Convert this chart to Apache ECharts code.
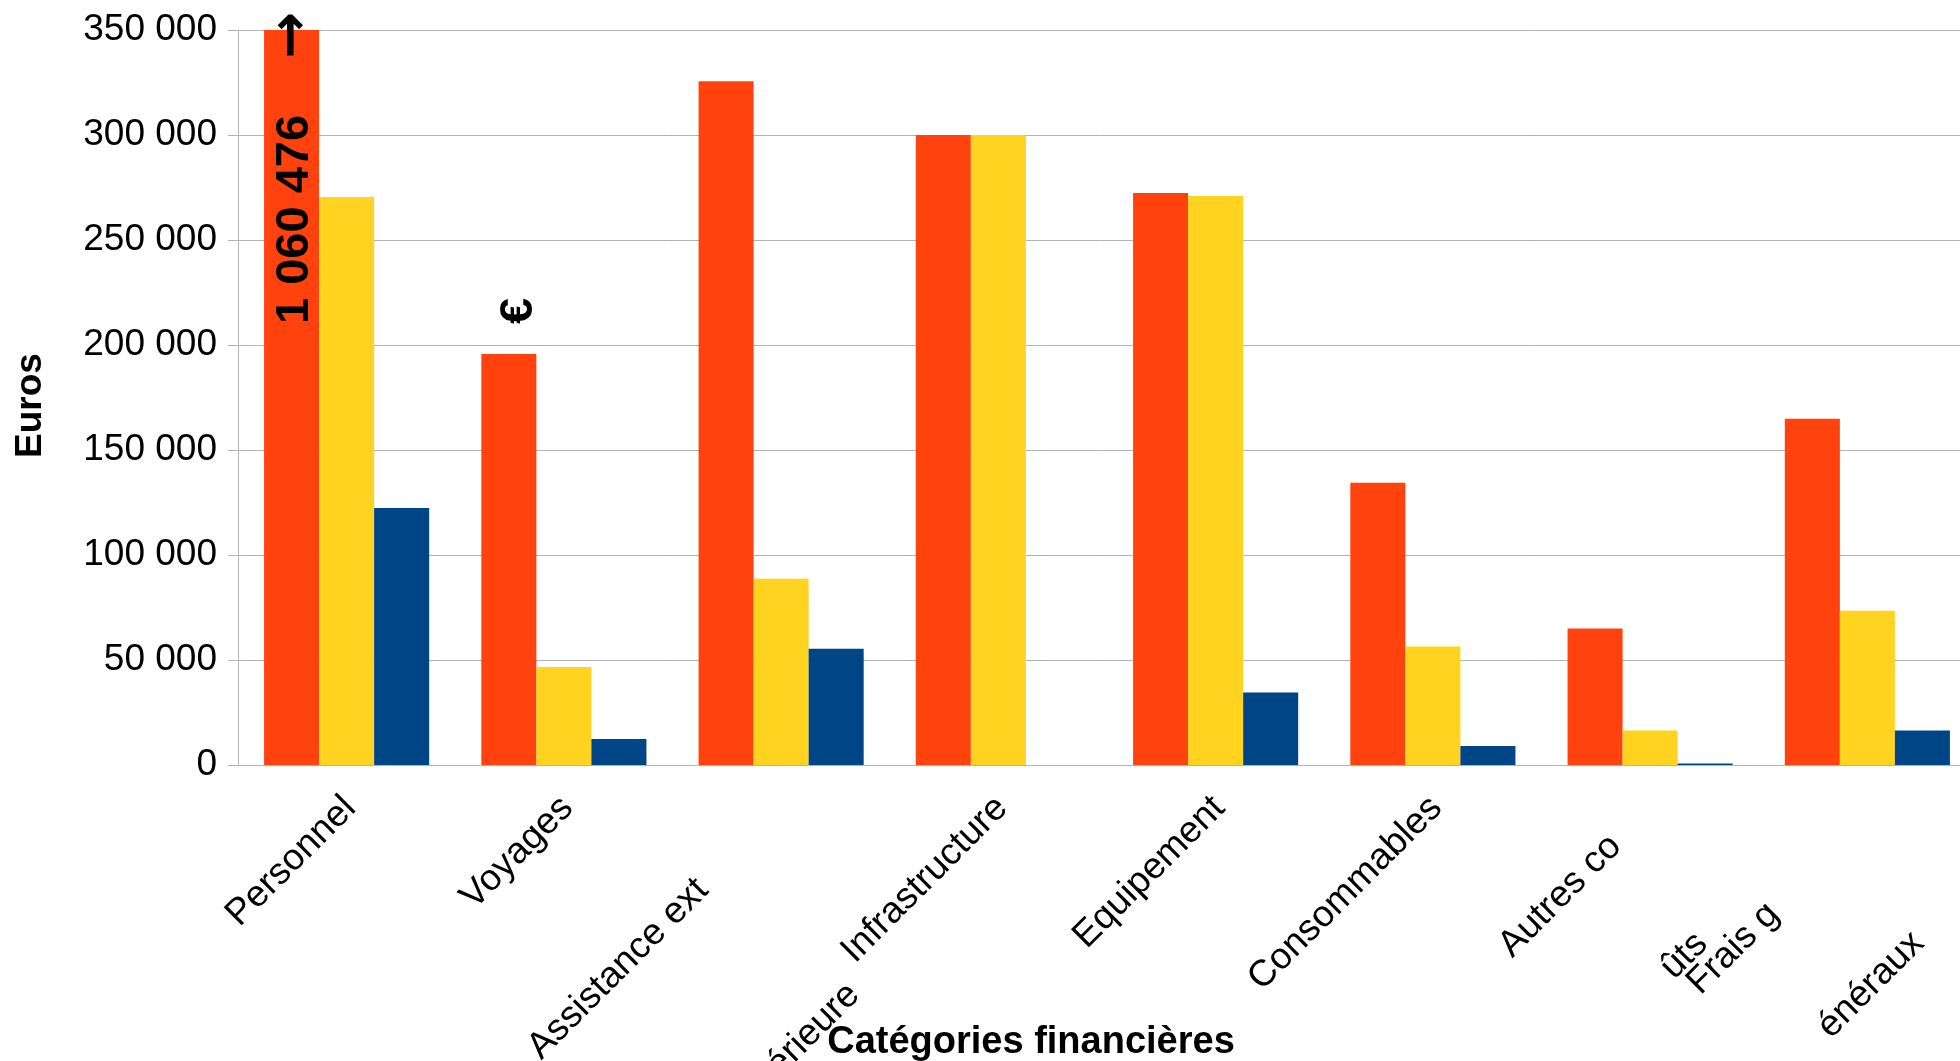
<!DOCTYPE html>
<html>
<head>
<meta charset="utf-8">
<script src="https://cdn.jsdelivr.net/npm/echarts@6/dist/echarts.min.js"></script>
<style>
    html, body { margin: 0; padding: 0; background: #fff; }
    #chart { width: 1960px; height: 1061px; }
</style>
</head>
<body>
<div id="chart"></div>
<script>
    var categories = ['Personnel', 'Voyages', 'Assistance extérieure', 'Infrastructure', 'Equipement', 'Consommables', 'Autres coûts', 'Frais généraux'];
    var serieRouge = [1060476, 195700, 325600, 300000, 272400, 134400, 65000, 164900];
    var serieJaune = [270500, 46700, 88700, 300000, 270900, 56400, 16400, 73400];
    var serieBleue = [122400, 12400, 55400, 0, 34500, 9000, 700, 16400];
    var yTicks = [0, 50000, 100000, 150000, 200000, 250000, 300000, 350000];

    // libellés tels qu'ils sont coupés dans le graphique d'origine
    var libelles = [
        'Personnel',
        'Voyages',
        '{a1|Assistance ext}\n{a2|érieure}',
        'Infrastructure',
        'Equipement',
        'Consommables',
        '{b1|Autres co}\n{b2|ûts}',
        '{c1|Frais g}\n{c2|énéraux}'
    ];

    var police = '"Liberation Sans", Arial, sans-serif';

    function rich(lh, pr) {
        return {fontSize: 37, fontFamily: police, color: '#000', lineHeight: lh, padding: [0, pr, 0, 0]};
    }

    var chart = echarts.init(document.getElementById('chart'));

    var option = {
        animation: false,
        backgroundColor: '#fff',
        textStyle: {fontFamily: police},
        grid: {left: 238, right: -16, top: 30, bottom: 296, containLabel: false, outerBoundsMode: 'none'},
        xAxis: {
            type: 'category',
            data: categories,
            name: 'Catégories financières',
            nameLocation: 'middle',
            nameGap: 259,
            nameMoveOverlap: false,
            nameTextStyle: {fontSize: 38, fontWeight: 'bold', color: '#000', padding: [0, 152, 0, 0]},
            axisLine: {lineStyle: {color: '#b3b3b3', width: 1}},
            axisTick: {length: 10, lineStyle: {color: '#b3b3b3'}},
            axisLabel: {
                interval: 0,
                rotate: 45,
                margin: 10,
                padding: [0, 17, 0, 0],
                align: 'right',
                verticalAlign: 'top',
                lineHeight: 44,
                fontSize: 37,
                color: '#000',
                formatter: function (v) {
                    return libelles[categories.indexOf(v)];
                },
                rich: {
                    a1: rich(44, 116), a2: rich(318, 83),
                    b1: rich(44, 54), b2: rich(216, 62),
                    c1: rich(56, 144), c2: rich(190, 62)
                }
            }
        },
        yAxis: {
            type: 'value',
            min: yTicks[0],
            max: yTicks[yTicks.length - 1],
            interval: yTicks[1] - yTicks[0],
            name: 'Euros',
            nameLocation: 'middle',
            nameRotate: 90,
            nameGap: 189,
            nameMoveOverlap: false,
            nameTextStyle: {fontSize: 37, fontWeight: 'bold', color: '#000', padding: [0, 16, 0, 0]},
            axisLine: {show: true, lineStyle: {color: '#b3b3b3', width: 1}},
            axisTick: {show: true, length: 10, lineStyle: {color: '#b3b3b3'}},
            splitLine: {lineStyle: {color: '#b3b3b3', width: 1}},
            axisLabel: {
                fontSize: 37,
                color: '#000',
                margin: 21,
                formatter: function (v) {
                    return String(v).replace(/\B(?=(\d{3})+(?!\d))/g, ' ');
                }
            }
        },
        series: [
            {name: 'Prévu', type: 'bar', data: serieRouge, clip: true, barGap: '0%', barCategoryGap: '24%', itemStyle: {color: '#ff420e'}},
            {name: 'Engagé', type: 'bar', data: serieJaune, clip: true, itemStyle: {color: '#ffd320'}},
            {name: 'Dépensé', type: 'bar', data: serieBleue, clip: true, itemStyle: {color: '#004586'}}
        ]
    };
    chart.setOption(option);

    // annotation : le montant réel de la barre "Personnel" dépasse l'échelle
    var cx = chart.convertToPixel({xAxisIndex: 0}, categories[0]);
    var bande = chart.convertToPixel({xAxisIndex: 0}, categories[1]) - cx;
    var barre = bande * (1 - 0.24) / 3;
    var xTexte = cx - barre + 3;
    var yDebut = chart.convertToPixel({yAxisIndex: 0}, 210000);
    var yFleche = chart.convertToPixel({yAxisIndex: 0}, 347600);
    var fonteAnnot = 'bold 47px ' + police;

    chart.setOption({
        graphic: [
            {type: 'text', x: xTexte, y: yDebut, rotation: Math.PI / 2, z: 100,
                style: {text: '1 060 476', font: fonteAnnot, fill: '#000', align: 'left', verticalAlign: 'middle'}},
            {type: 'text', x: xTexte - 1, y: yFleche, rotation: Math.PI / 2, z: 100,
                style: {text: '→', font: 'bold 56px "DejaVu Sans"', fill: '#000', align: 'center', verticalAlign: 'middle'}},
            {type: 'text', x: xTexte + 224, y: yDebut, rotation: Math.PI / 2, z: 100,
                style: {text: '€', font: fonteAnnot, fill: '#000', align: 'left', verticalAlign: 'middle'}}
        ]
    });
</script>
</body>
</html>
